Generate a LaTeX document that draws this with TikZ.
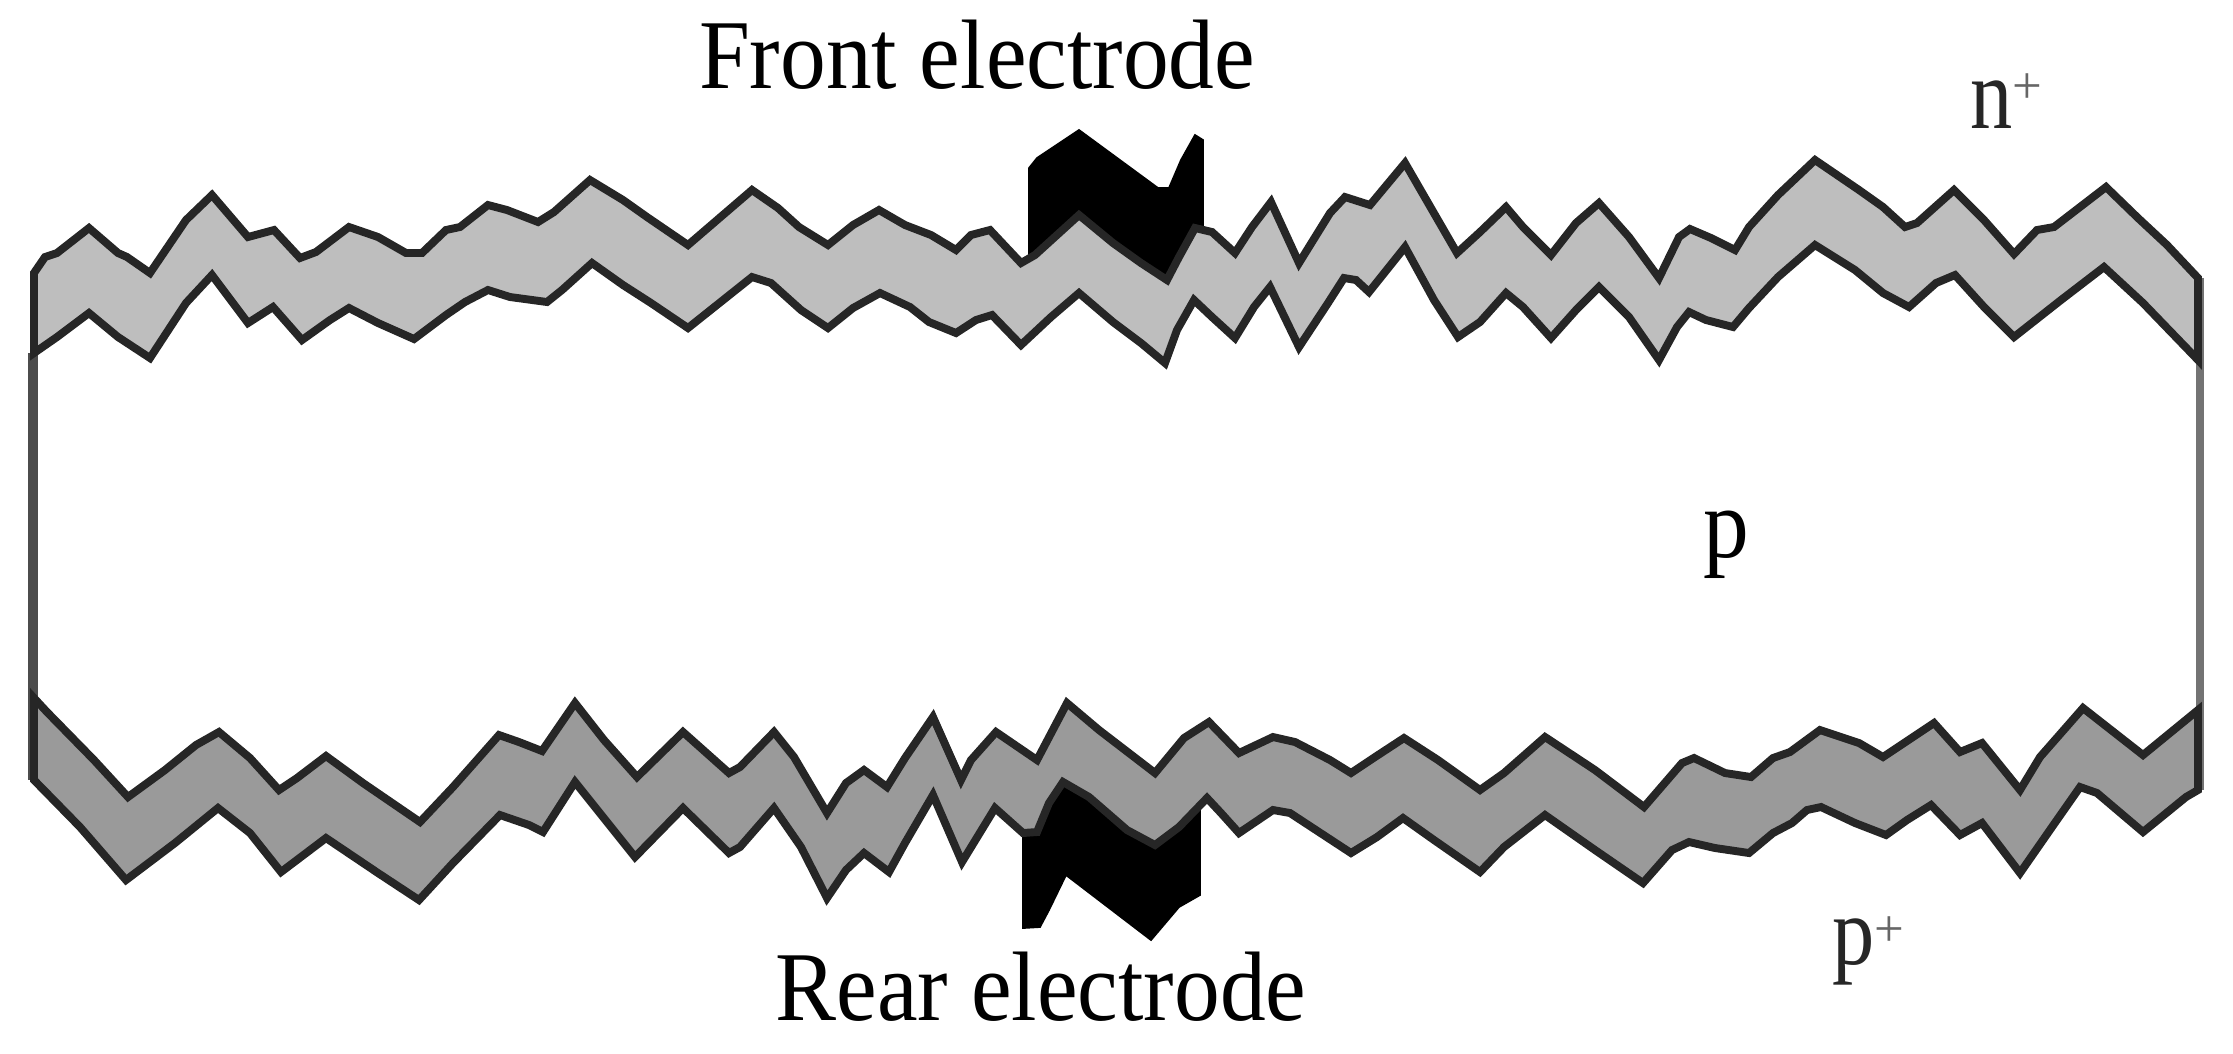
\documentclass[tikz,border=0pt]{standalone}
\usepackage{fontspec}
\usepackage{graphicx}
\setmainfont{Liberation Serif}
\definecolor{topgrey}{HTML}{BEBEBE}
\definecolor{botgrey}{HTML}{9A9A9A}
\newcommand{\tallbox}[2]{\scalebox{1}[#1]{#2}}
\newcommand{\lowplus}[2]{\raisebox{#1}{\fontsize{#2}{#2}\selectfont\color{black!60}+}}
\tikzset{
  band/.style={draw=black!85,line width=2.25pt,line join=miter,miter limit=3},
  topband/.style={band,fill=topgrey},
  botband/.style={band,fill=botgrey},
  electrode/.style={fill=black,draw=black,line width=0.5pt},
  wallline/.style={draw=black!70,line width=3pt},
  lab/.style={anchor=base,inner sep=0pt,font=\fontsize{26pt}{30pt}\selectfont},
  smalllab/.style={anchor=base west,inner sep=0pt,text=black!85,font=\fontsize{24pt}{28pt}\selectfont}
}
\begin{document}
\begin{tikzpicture}[x=0.01cm,y=-0.01cm]
\useasboundingbox (0,0) rectangle (2233,1053);
% electrodes (behind the bands)
\draw[electrode] (1029,262)--(1029,168)--(1037,158)--(1079,130)--(1158,188)--(1169,188)--(1181,160)--(1195,135)--(1203,140)--(1203,228)--(1195,228)--(1167,280)--(1079,215)--cycle;
\draw[electrode] (1023,830)--(1023,928)--(1040,927)--(1049,910)--(1066,875)--(1151,940)--(1179,907)--(1200,895)--(1200,808)--(1155,800)--(1067,760)--cycle;
% walls
\draw[wallline] (33,353)--(33,780);
\draw[wallline,draw=black!55,line width=2.25pt] (2200,278)--(2200,790);
% top band
\draw[topband] (34,353)--(34,273)--(45,257)--(57,253)--(89,228)--(118,253)--(127,257)--(150,273)--(186,220)--(212,195)--(248,237)--(274,230)--(300,258)--(316,252)--(349,227)--(378,237)--(406,253)--(422,253)--(446,230)--(460,227)--(488,205)--(507,210)--(538,222)--(554,212)--(590,180)--(623,200)--(647,217)--(688,245)--(752,190)--(778,208)--(799,227)--(828,245)--(853,225)--(879,210)--(905,225)--(931,235)--(956,250)--(971,235)--(990,230)--(1021,263)--(1035,255)--(1079,215)--(1113,243)--(1141,263)--(1167,280)--(1179,257)--(1195,228)--(1212,232)--(1235,253)--(1252,227)--(1271,202)--(1299,263)--(1330,213)--(1345,197)--(1370,205)--(1405,163)--(1457,253)--(1480,232)--(1506,207)--(1523,227)--(1551,255)--(1576,223)--(1599,203)--(1629,237)--(1659,278)--(1679,237)--(1690,229)--(1711,238)--(1735,250)--(1749,227)--(1778,195)--(1815,160)--(1859,190)--(1883,207)--(1905,227)--(1917,223)--(1954,190)--(1984,220)--(2014,254)--(2037,230)--(2054,227)--(2106,187)--(2138,218)--(2167,245)--(2198,278)--(2198,360)--(2143,303)--(2104,267)--(2061,300)--(2014,337)--(1984,307)--(1955,275)--(1936,283)--(1909,307)--(1883,293)--(1855,270)--(1815,245)--(1778,277)--(1749,308)--(1733,327)--(1706,320)--(1689,312)--(1677,327)--(1659,360)--(1629,317)--(1599,287)--(1576,310)--(1551,338)--(1523,307)--(1506,293)--(1480,322)--(1458,337)--(1434,300)--(1405,247)--(1369,292)--(1356,280)--(1344,278)--(1328,303)--(1299,347)--(1270,287)--(1254,307)--(1235,338)--(1212,317)--(1194,300)--(1177,330)--(1165,363)--(1141,343)--(1113,322)--(1079,293)--(1051,317)--(1021,345)--(992,315)--(976,320)--(956,333)--(929,322)--(910,307)--(880,293)--(853,308)--(828,328)--(801,310)--(771,283)--(752,277)--(688,328)--(651,303)--(623,285)--(592,263)--(562,290)--(547,302)--(510,297)--(488,290)--(465,302)--(446,315)--(414,339)--(378,323)--(349,308)--(330,320)--(302,340)--(273,307)--(248,323)--(212,275)--(186,303)--(150,358)--(118,337)--(89,313)--(57,337)--cycle;
% bottom band
\draw[botband] (34,780)--(34,698)--(47,712)--(94,760)--(128,797)--(165,770)--(196,745)--(219,732)--(250,758)--(279,790)--(297,778)--(326,756)--(363,783)--(420,822)--(453,787)--(499,735)--(519,742)--(542,751)--(575,703)--(604,740)--(637,777)--(683,732)--(729,773)--(740,767)--(774,732)--(794,757)--(827,813)--(846,783)--(864,770)--(887,787)--(905,758)--(933,717)--(961,780)--(971,760)--(996,732)--(1037,760)--(1067,703)--(1099,730)--(1155,773)--(1184,738)--(1209,722)--(1239,753)--(1273,737)--(1295,742)--(1330,760)--(1351,773)--(1375,757)--(1404,738)--(1438,760)--(1480,790)--(1504,773)--(1545,737)--(1595,770)--(1644,807)--(1682,763)--(1694,758)--(1725,773)--(1751,777)--(1773,758)--(1790,752)--(1820,730)--(1859,743)--(1883,757)--(1934,723)--(1960,752)--(1982,743)--(2020,790)--(2040,757)--(2083,708)--(2143,755)--(2198,710)--(2198,790)--(2186,797)--(2143,832)--(2097,793)--(2080,787)--(2052,827)--(2020,873)--(1982,823)--(1960,835)--(1931,805)--(1907,820)--(1886,835)--(1855,823)--(1821,807)--(1807,810)--(1792,823)--(1773,833)--(1749,853)--(1715,848)--(1689,842)--(1672,850)--(1643,883)--(1595,850)--(1545,815)--(1504,847)--(1480,872)--(1434,840)--(1403,818)--(1377,837)--(1351,853)--(1290,813)--(1273,810)--(1239,833)--(1221,813)--(1207,798)--(1179,827)--(1155,845)--(1127,830)--(1089,797)--(1063,782)--(1049,803)--(1037,832)--(1023,833)--(995,808)--(962,862)--(933,795)--(905,843)--(889,872)--(864,853)--(846,870)--(827,898)--(801,847)--(774,808)--(740,847)--(729,853)--(683,808)--(635,857)--(575,782)--(543,832)--(529,825)--(500,815)--(453,863)--(419,900)--(378,873)--(326,838)--(281,872)--(250,833)--(218,808)--(175,843)--(126,880)--(80,827)--cycle;
% labels
\node[lab] (front) at (977,88) {\tallbox{1.08}{Front electrode}};
\node[lab] (rear) at (1041,1020) {\tallbox{1.08}{Rear electrode}};
\node[smalllab] (nplus) at (1970,128) {\tallbox{1.2}{n}\lowplus{7pt}{15pt}};
\node[lab] (pbase) at (1726,557) {\tallbox{1.08}{p}};
\node[smalllab] (pplus) at (1832,964) {\tallbox{1.15}{p}\lowplus{5pt}{15pt}};
\end{tikzpicture}
\end{document}
